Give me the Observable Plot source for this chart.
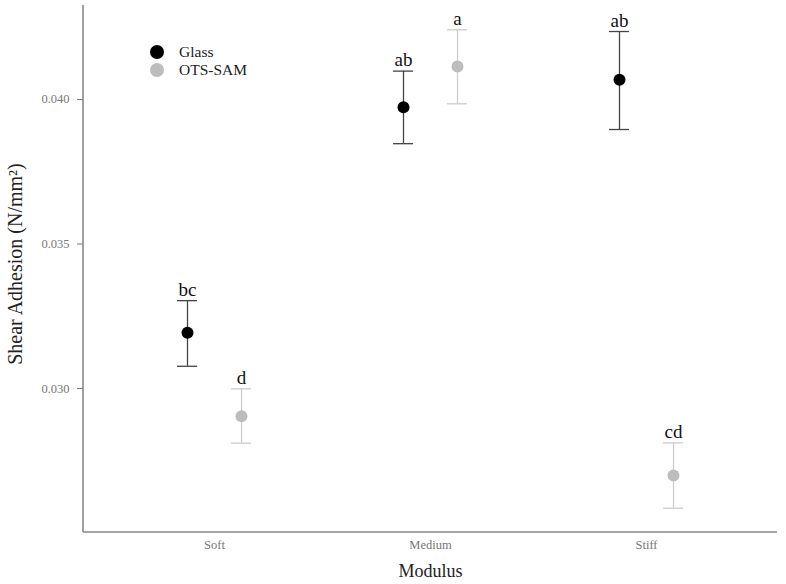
<!DOCTYPE html>
<html>
<head>
<meta charset="utf-8">
<script src="https://cdn.jsdelivr.net/npm/d3@7"></script>
<script src="https://cdn.jsdelivr.net/npm/@observablehq/plot@0.6"></script>
<style>
  html, body { margin: 0; padding: 0; background: #fff; }
  #wrap { position: relative; width: 786px; height: 584px; font-family: "Liberation Serif", serif; }
  #legend { position: absolute; left: 150px; top: 43px; font-size: 15.5px; color: #222; line-height: 18px; z-index: 2; }
  #legend .row { display: flex; align-items: center; }
  #legend .sw { width: 14px; height: 14px; border-radius: 50%; margin-right: 15px; }
  #wrap svg { overflow: visible; }
</style>
</head>
<body>
<div id="wrap">
  <div id="legend"></div>
</div>
<script>
const categories = ["Soft", "Medium", "Stiff"];
const surfaces = ["Glass", "OTS-SAM"];
const surfaceColors = ["#000000", "#bdbdbd"];
const barColors = ["#444444", "#cccccc"];
const glassMean = [0.03193, 0.03973, 0.04068];
const glassLow  = [0.03077, 0.03847, 0.03896];
const glassHigh = [0.03304, 0.04098, 0.04235];
const otsMean = [0.02904, 0.04114, 0.02699];
const otsLow  = [0.02811, 0.03985, 0.02586];
const otsHigh = [0.02999, 0.04241, 0.02812];
const glassLetters = ["bc", "ab", "ab"];
const otsLetters = ["d", "a", "cd"];
const yTicks = [0.030, 0.035, 0.040];
const yDomain = [0.02502, 0.04325];

const glass = categories.map((c, i) => ({cat: c, mean: glassMean[i], lo: glassLow[i], hi: glassHigh[i], letter: glassLetters[i]}));
const ots = categories.map((c, i) => ({cat: c, mean: otsMean[i], lo: otsLow[i], hi: otsHigh[i], letter: otsLetters[i]}));

const W = 786, H = 584, mL = 83, mR = 9, mT = 5, mB = 52;
const padOuter = 0.1;
const bandwidth = (W - mL - mR) / (categories.length + 2 * padOuter);
const capHalf = 10.5;
const capInset = bandwidth / 2 - capHalf;
const off = 27;

function series(data, dx, dotColor, barColor) {
  return [
    Plot.ruleX(data, {x: "cat", y1: "lo", y2: "hi", dx, stroke: barColor, strokeWidth: 1.3}),
    Plot.tickY(data, {x: "cat", y: "lo", dx, stroke: barColor, strokeWidth: 1.3, insetLeft: capInset, insetRight: capInset}),
    Plot.tickY(data, {x: "cat", y: "hi", dx, stroke: barColor, strokeWidth: 1.3, insetLeft: capInset, insetRight: capInset}),
    Plot.dot(data, {x: "cat", y: "mean", dx, r: 6, fill: dotColor, stroke: "none"}),
    Plot.text(data, {x: "cat", y: "hi", dx, dy: -5, text: "letter", lineAnchor: "bottom", fontSize: 19, fill: "#111"})
  ];
}

function axisLines(index, scales, values, dims) {
  const g = d3.create("svg:g").attr("stroke", "#888").attr("stroke-width", 1.6);
  const x0 = dims.marginLeft, x1 = dims.width - dims.marginRight;
  const y0 = dims.marginTop, y1 = dims.height - dims.marginBottom;
  g.append("line").attr("x1", x0).attr("x2", x0).attr("y1", y0).attr("y2", y1);
  g.append("line").attr("x1", x0).attr("x2", x1).attr("y1", y1).attr("y2", y1);
  return g.node();
}

const chart = Plot.plot({
  width: W,
  height: H,
  marginLeft: mL,
  marginRight: mR,
  marginTop: mT,
  marginBottom: mB,
  style: {fontFamily: "Liberation Serif, serif", fontSize: "12.5px", color: "#777", background: "white"},
  x: {type: "band", domain: categories, paddingInner: 0, paddingOuter: padOuter, label: null, tickSize: 0, tickPadding: 8},
  y: {domain: yDomain, ticks: yTicks, tickFormat: d3.format(".3f"), label: null, tickSize: 6, tickPadding: 8},
  marks: [
    axisLines,
    ...series(glass, -off, surfaceColors[0], barColors[0]),
    ...series(ots, off, surfaceColors[1], barColors[1]),
    Plot.text(["Shear Adhesion (N/mm²)"], {frameAnchor: "left", textAnchor: "middle", dx: -68, dy: -5, rotate: -90, fontSize: 20, fill: "#222"}),
    Plot.text(["Modulus"], {frameAnchor: "bottom", dy: 44, fontSize: 18, fill: "#222"})
  ]
});
document.getElementById("wrap").appendChild(chart);

const legend = document.getElementById("legend");
surfaces.forEach((s, i) => {
  const row = document.createElement("div");
  row.className = "row";
  const sw = document.createElement("div");
  sw.className = "sw";
  sw.style.background = surfaceColors[i];
  const t = document.createElement("span");
  t.textContent = s;
  row.appendChild(sw);
  row.appendChild(t);
  legend.appendChild(row);
});
</script>
</body>
</html>
